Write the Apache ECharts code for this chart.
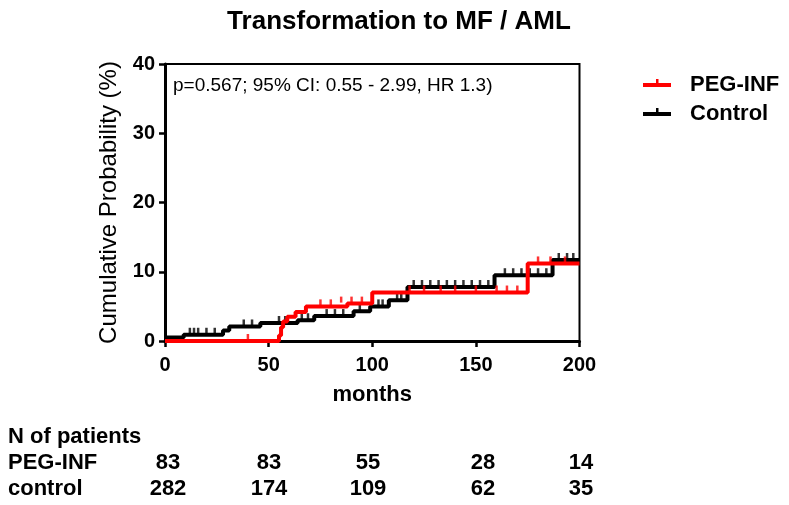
<!DOCTYPE html>
<html>
<head>
<meta charset="utf-8">
<script src="https://cdn.jsdelivr.net/npm/echarts@6/dist/echarts.min.js"></script>
<style>
html,body{margin:0;padding:0;background:#fff;}
#c{width:789px;height:505px;}
</style>
</head>
<body>
<div id="c"></div>
<script>
// ---- data ----
var controlSteps = [[0,0.5],[9,0.9],[28,1.5],[31,2.1],[46,2.6],[64,3.0],[72,3.6],[91,4.3],[99,5.0],[108,5.9],[117,7.8],[159,9.5],[187,11.7],[200,11.7]];
var pegSteps = [[0,0],[55,0.8],[56,2.0],[57,2.8],[59,3.5],[63,4.2],[68,5.0],[88,5.4],[100,7.0],[175,11.2],[200,11.2]];
var controlCensor = [[12,0.9],[14,0.9],[16,0.9],[20,0.9],[24,0.9],[38,2.1],[42,2.1],[55,2.6],[58,2.6],[66,3.0],[69,3.0],[78,3.6],[82,3.6],[86,3.6],[94,4.3],[103,5.0],[105,5.0],[112,5.9],[114,5.9],[120,7.8],[124,7.8],[128,7.8],[132,7.8],[136,7.8],[140,7.8],[144,7.8],[148,7.8],[152,7.8],[156,7.8],[164,9.5],[168,9.5],[172,9.5],[176,9.5],[180,9.5],[184,9.5],[190,11.7],[194,11.7],[197,11.7]];
var pegCensor = [[40,0],[75,5.0],[80,5.0],[85,5.4],[90,5.4],[95,5.4],[118,7.0],[125,7.0],[133,7.0],[140,7.0],[150,7.0],[160,7.0],[165,7.0],[170,7.0],[180,11.2],[186,11.2],[193,11.2]];
var xTicks = [0,50,100,150,200];
var yTicks = [0,10,20,30,40];
var seriesNames = ['PEG-INF','Control'];
var riskRowLabels = ['PEG-INF','control'];
var atRiskPeg = [83,83,55,28,14];
var atRiskControl = [282,174,109,62,35];
var titleText = 'Transformation to MF / AML';
var noteText = 'p=0.567; 95% CI: 0.55 - 2.99, HR 1.3)';

// ---- chart ----
var FONT = '"Liberation Sans", Arial, sans-serif';
var chart = echarts.init(document.getElementById('c'), null, {renderer:'canvas'});
var RED = '#ff0000', BLACK = '#000000';
var riskX = [168, 269, 368, 483, 581];

var graphics = [];
graphics.push({type:'text', x:399, y:22, style:{text:titleText, font:'bold 26px '+FONT, fill:'#000', align:'center', verticalAlign:'middle'}});
graphics.push({type:'text', x:173, y:86, style:{text:noteText, font:'19px '+FONT, fill:'#000', verticalAlign:'middle'}});
// legend
[[RED, seriesNames[0], 85],[BLACK, seriesNames[1], 114]].forEach(function(l){
  graphics.push({type:'rect', shape:{x:643, y:l[2]-2, width:28, height:4}, style:{fill:l[0]}});
  graphics.push({type:'rect', shape:{x:656, y:l[2]-6, width:2.5, height:5}, style:{fill:l[0]}});
  graphics.push({type:'text', x:690, y:l[2], style:{text:l[1], font:'bold 22px '+FONT, fill:'#000', verticalAlign:'middle'}});
});
// risk table
graphics.push({type:'text', x:8, y:437, style:{text:'N of patients', font:'bold 22px '+FONT, fill:'#000', verticalAlign:'middle'}});
graphics.push({type:'text', x:8, y:463, style:{text:riskRowLabels[0], font:'bold 22px '+FONT, fill:'#000', verticalAlign:'middle'}});
graphics.push({type:'text', x:8, y:489, style:{text:riskRowLabels[1], font:'bold 22px '+FONT, fill:'#000', verticalAlign:'middle'}});
atRiskPeg.forEach(function(v,i){
  graphics.push({type:'text', x:riskX[i], y:463, style:{text:String(v), font:'bold 22px '+FONT, fill:'#000', align:'center', verticalAlign:'middle'}});
});
atRiskControl.forEach(function(v,i){
  graphics.push({type:'text', x:riskX[i], y:489, style:{text:String(v), font:'bold 22px '+FONT, fill:'#000', align:'center', verticalAlign:'middle'}});
});

var option = {
  animation:false,
  backgroundColor:'#fff',
  grid:{left:165, right:209.5, top:64, bottom:164, show:true, borderColor:'#000', borderWidth:2, backgroundColor:'transparent'},
  xAxis:{
    type:'value', min:0, max:200, interval:50,
    name:'months', nameLocation:'middle', nameGap:43,
    nameTextStyle:{fontFamily:FONT, fontWeight:'bold', fontSize:22, color:'#000'},
    axisLine:{show:true, onZero:false, lineStyle:{color:'#000', width:3}},
    axisTick:{show:true, length:6, lineStyle:{color:'#000', width:2.5}},
    axisLabel:{fontFamily:FONT, fontWeight:'bold', fontSize:20, color:'#000', margin:14},
    splitLine:{show:false}
  },
  yAxis:{
    type:'value', min:0, max:40, interval:10,
    name:'Cumulative Probability (%)', nameLocation:'middle', nameGap:43,
    nameTextStyle:{fontFamily:FONT, fontSize:24, color:'#000'},
    axisLine:{show:true, lineStyle:{color:'#000', width:3}},
    axisTick:{show:true, length:6, lineStyle:{color:'#000', width:2.5}},
    axisLabel:{fontFamily:FONT, fontWeight:'bold', fontSize:20, color:'#000', margin:10},
    splitLine:{show:false}
  },
  series:[
    {name:seriesNames[1], type:'line', step:'end', data:controlSteps, showSymbol:false, lineStyle:{color:BLACK, width:4}, z:2, clip:false},
    {name:seriesNames[1]+' censored', type:'scatter', data:controlCensor, symbol:'rect', symbolSize:[2.5,6], symbolOffset:[0,-4], itemStyle:{color:BLACK}, z:2, clip:false},
    {name:seriesNames[0], type:'line', step:'end', data:pegSteps, showSymbol:false, lineStyle:{color:RED, width:4}, z:3, clip:false},
    {name:seriesNames[0]+' censored', type:'scatter', data:pegCensor, symbol:'rect', symbolSize:[2.5,6], symbolOffset:[0,-4], itemStyle:{color:RED}, z:3, clip:false}
  ],
  graphic:graphics
};
chart.setOption(option);
</script>
</body>
</html>
